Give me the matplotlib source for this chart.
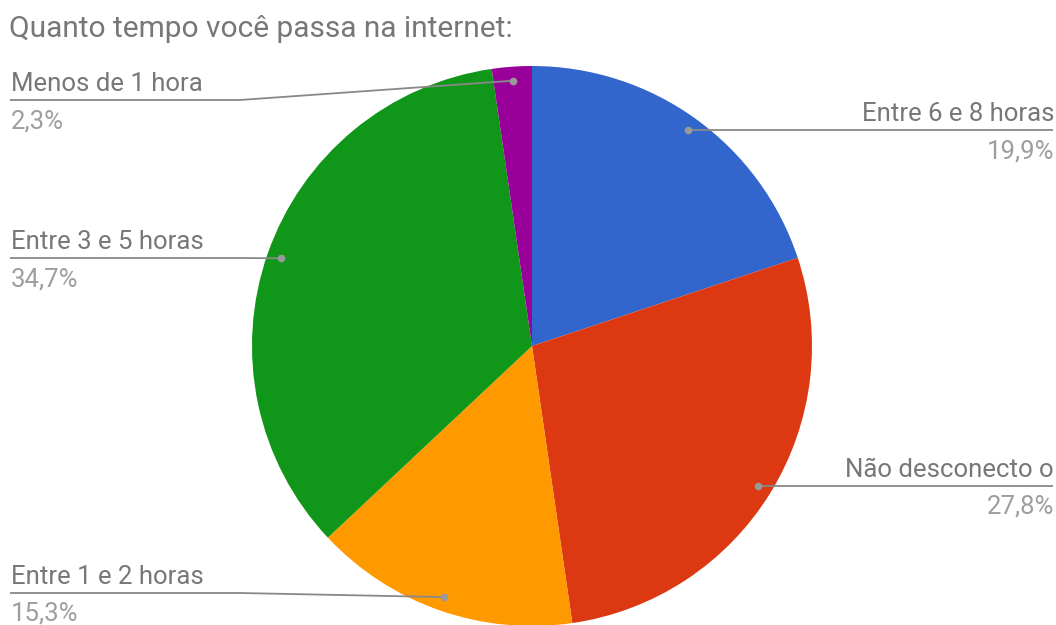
import numpy as np
import matplotlib.pyplot as plt

plt.rcParams['font.family'] = ['Roboto', 'DejaVu Sans']

labels = ['Entre 6 e 8 horas', 'Não desconecto o', 'Entre 1 e 2 horas',
          'Entre 3 e 5 horas', 'Menos de 1 hora']
values = [19.9, 27.8, 15.3, 34.7, 2.3]
colors = ['#3366cc', '#dc3912', '#ff9900', '#109618', '#990099']
pct_text = ['19,9%', '27,8%', '15,3%', '34,7%', '2,3%']

W, H = 1056, 625
cx, cy, R = 532, 346, 280

fig = plt.figure(figsize=(W / 100, H / 100), dpi=100)
ax = fig.add_axes([0, 0, 1, 1])
ax.set_xlim(0, W)
ax.set_ylim(0, H)
ax.set_aspect('equal')
ax.axis('off')

ax.pie(values, colors=colors, startangle=90, counterclock=False,
       center=(cx, H - cy), radius=R, wedgeprops=dict(linewidth=0))
ax.set_xlim(0, W)
ax.set_ylim(0, H)

# left side label rows (pixel y of the leader line), others go right
left_rows = {2: 593, 3: 258, 4: 100}

tc = '#777777'
lc = '#9e9e9e'
total = sum(values)
start = 0.0
for i, v in enumerate(values):
    mid = (start + v / 2) / total * 360
    start += v
    a = np.deg2rad(mid)
    dx = cx + 0.95 * R * np.sin(a)
    dy = cy - 0.95 * R * np.cos(a)
    if i in left_rows:
        ly = left_rows[i]
        xs = [10, 240, dx]
        ys = [ly, ly, dy]
        tx, ha = 11, 'left'
    else:
        ly = dy
        xs = [dx, 1053]
        ys = [dy, dy]
        tx, ha = 1054, 'right'
    ax.plot(xs, [H - y for y in ys], color='#888888', lw=1.3,
            solid_capstyle='butt')
    ax.plot(dx, H - dy, 'o', color='#999999', ms=5.5, mec='none')
    ax.text(tx, H - ly + 9, labels[i], ha=ha, va='baseline', fontsize=18.5, color=tc)
    ax.text(tx, H - ly - 28, pct_text[i], ha=ha, va='baseline', fontsize=18.5, color=lc)

ax.text(9, H - 37, 'Quanto tempo você passa na internet:', ha='left',
        va='baseline', fontsize=21.5, color=tc)

fig.savefig('out.png', dpi=100, facecolor='white')
